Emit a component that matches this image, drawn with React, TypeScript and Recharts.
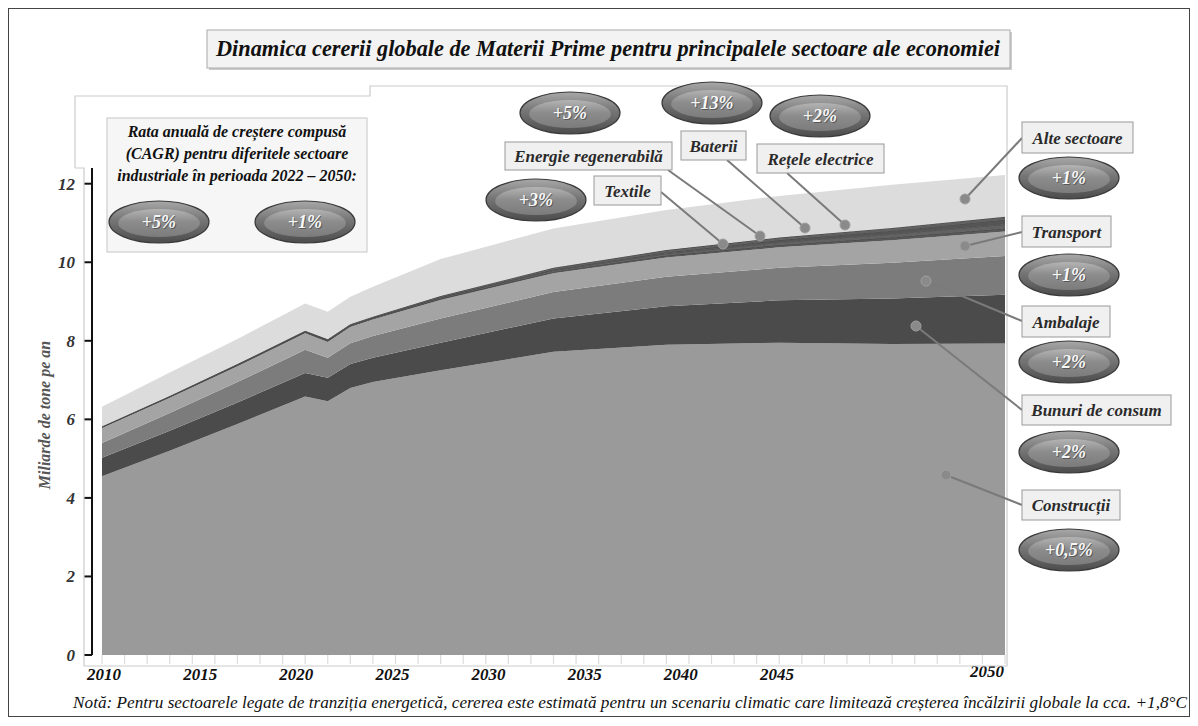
import React from "react";
import { AreaChart, Area, XAxis, YAxis } from "recharts";

const years = [2010, 2013, 2016, 2019, 2020, 2021, 2022, 2025, 2030, 2035, 2040, 2045, 2050];
const constructii = [4.55, 5.2, 5.88, 6.58, 6.46, 6.8, 6.95, 7.25, 7.72, 7.9, 7.95, 7.92, 7.93];
const bunuriDeConsum = [0.47, 0.51, 0.55, 0.6, 0.6, 0.61, 0.62, 0.7, 0.85, 0.98, 1.08, 1.16, 1.24];
const ambalaje = [0.38, 0.45, 0.52, 0.59, 0.51, 0.53, 0.55, 0.62, 0.67, 0.75, 0.83, 0.91, 0.99];
const transport = [0.38, 0.39, 0.4, 0.42, 0.4, 0.41, 0.42, 0.47, 0.48, 0.49, 0.52, 0.57, 0.62];
const textile = [0.02, 0.02, 0.025, 0.03, 0.03, 0.03, 0.03, 0.035, 0.04, 0.05, 0.06, 0.07, 0.08];
const energieRegenerabila = [0.005, 0.007, 0.01, 0.012, 0.012, 0.013, 0.015, 0.025, 0.035, 0.05, 0.065, 0.085, 0.1];
const baterii = [0.001, 0.001, 0.002, 0.003, 0.003, 0.004, 0.005, 0.01, 0.02, 0.035, 0.06, 0.09, 0.12];
const reteleElectrice = [0.015, 0.017, 0.02, 0.022, 0.022, 0.023, 0.025, 0.03, 0.045, 0.055, 0.065, 0.07, 0.08];
const alteSectoare = [0.5, 0.6, 0.64, 0.69, 0.7, 0.7, 0.76, 0.94, 1.0, 1.02, 1.06, 1.1, 1.06];

const yTicks = [0, 2, 4, 6, 8, 10, 12];
const labelYears = [2010, 2015, 2020, 2025, 2030, 2035, 2040, 2045];
const minorYears = Array.from({ length: 41 }, (_, i) => 2010 + i);

const data = years.map((year, i) => ({
  year,
  constructii: constructii[i],
  bunuri: bunuriDeConsum[i],
  ambalaje: ambalaje[i],
  transport: transport[i],
  textile: textile[i],
  energie: energieRegenerabila[i],
  baterii: baterii[i],
  retele: reteleElectrice[i],
  alte: alteSectoare[i],
}));

const series = [
  { key: "constructii", fill: "#9a9a9a", stroke: "none" },
  { key: "bunuri", fill: "#4b4b4b", stroke: "none" },
  { key: "ambalaje", fill: "#7c7c7c", stroke: "none" },
  { key: "transport", fill: "#a4a4a4", stroke: "none" },
  { key: "textile", fill: "#585858", stroke: "#3c3c3c" },
  { key: "energie", fill: "#626262", stroke: "#484848" },
  { key: "baterii", fill: "#555555", stroke: "#444" },
  { key: "retele", fill: "#606060", stroke: "#383838" },
  { key: "alte", fill: "#dcdcdc", stroke: "none" },
];

const FONT = "'Liberation Serif', 'Times New Roman', serif";

const bubbles = [
  { text: "+5%", cx: 159, cy: 222 },
  { text: "+1%", cx: 305, cy: 222 },
  { text: "+5%", cx: 570, cy: 113 },
  { text: "+13%", cx: 712, cy: 103 },
  { text: "+2%", cx: 820, cy: 116 },
  { text: "+3%", cx: 536, cy: 200 },
  { text: "+1%", cx: 1069, cy: 178 },
  { text: "+1%", cx: 1069, cy: 275 },
  { text: "+2%", cx: 1069, cy: 362 },
  { text: "+2%", cx: 1069, cy: 452 },
  { text: "+0,5%", cx: 1069, cy: 550 },
];

const callouts = [
  { text: "Energie regenerabilă", x: 505, y: 142, w: 167, h: 28, from: [668, 170], to: [760, 236] },
  { text: "Baterii", x: 681, y: 131, w: 65, h: 29, from: [727, 160], to: [805, 228] },
  { text: "Rețele electrice", x: 757, y: 144, w: 127, h: 29, from: [787, 173], to: [845, 225] },
  { text: "Textile", x: 594, y: 176, w: 67, h: 29, from: [661, 192], to: [723, 244] },
  { text: "Alte sectoare", x: 1022, y: 122, w: 111, h: 31, from: [1022, 138], to: [965, 199] },
  { text: "Transport", x: 1022, y: 216, w: 89, h: 31, from: [1022, 232], to: [965, 246] },
  { text: "Ambalaje", x: 1022, y: 306, w: 88, h: 31, from: [1022, 321], to: [926, 281] },
  { text: "Bunuri de consum", x: 1022, y: 395, w: 149, h: 30, from: [1022, 410], to: [916, 326] },
  { text: "Construcții", x: 1022, y: 490, w: 98, h: 30, from: [1022, 505], to: [946, 475] },
];

const tickFont = { fontFamily: FONT, fontSize: 17, fontWeight: "bold", fontStyle: "italic" };

const Bubble = ({ text, cx, cy }: { text: string; cx: number; cy: number }) => (
  <g>
    <ellipse cx={cx} cy={cy} rx={50} ry={21} fill="url(#bubOuter)" stroke="#3a3a3a" strokeWidth={1.2} />
    <ellipse cx={cx} cy={cy + 1} rx={41} ry={14} fill="url(#bubInner)" />
    <text x={cx + 1} y={cy + 7} textAnchor="middle" fontFamily={FONT} fontSize={18}
      fontWeight="bold" fontStyle="italic" fill="#333" opacity={0.55}>{text}</text>
    <text x={cx} y={cy + 6} textAnchor="middle" fontFamily={FONT} fontSize={18}
      fontWeight="bold" fontStyle="italic" fill="#f7f7f7">{text}</text>
  </g>
);

export default function App() {
  return (
    <div style={{ position: "relative", width: 1182, height: 709 }}>
      <div style={{ position: "absolute", left: 0, top: 0, width: 1180, height: 707, border: "1px solid #444" }} />
      <div style={{ position: "absolute", left: 0, top: 0 }}>
        <AreaChart width={1182} height={709} data={data}
          margin={{ top: 160, right: 185, bottom: 31, left: 0 }}>
          <YAxis
            width={84}
            type="number"
            domain={[0, 12.4]}
            ticks={yTicks}
            axisLine={{ stroke: "#111", strokeWidth: 2 }}
            tickLine={{ stroke: "#111", strokeWidth: 2 }}
            tickSize={8}
            tickMargin={9}
            tick={{ ...tickFont, fill: "#333" }}
          />
          <XAxis
            xAxisId="data"
            dataKey="year"
            type="number"
            domain={[2010, 2050]}
            ticks={minorYears}
            padding={{ left: 10, right: 0 }}
            height={1}
            tickSize={9}
            tickMargin={3}
            axisLine={false}
            tickLine={{ stroke: "#dcdcdc", strokeWidth: 1.2 }}
            tickFormatter={(v: number) => (v === 2050 ? "2050" : "")}
            tick={{ ...tickFont, fill: "#111", dx: -18, dy: -2 }}
            interval={0}
          />
          <XAxis
            xAxisId="lbl"
            dataKey="year"
            type="number"
            domain={[2010, 2045]}
            allowDataOverflow
            ticks={labelYears}
            padding={{ left: 12, right: 228 }}
            height={30}
            axisLine={false}
            tickLine={false}
            tickSize={2}
            tickMargin={10}
            interval={0}
            tick={{ ...tickFont, fill: "#111" }}
          />
          {series.map((s) => (
            <Area
              key={s.key}
              xAxisId="data"
              dataKey={s.key}
              stackId="1"
              type="linear"
              fill={s.fill}
              fillOpacity={1}
              stroke={s.stroke}
              strokeWidth={s.stroke === "none" ? 0 : 0.9}
              dot={false}
              activeDot={false}
              isAnimationActive={false}
            />
          ))}
        </AreaChart>
      </div>
      <svg width={1182} height={709} style={{ position: "absolute", left: 0, top: 0, pointerEvents: "none" }}>
        <defs>
          <linearGradient id="bubOuter" x1="0" y1="0" x2="0" y2="1">
            <stop offset="0%" stopColor="#a8a8a8" />
            <stop offset="45%" stopColor="#767676" />
            <stop offset="100%" stopColor="#4c4c4c" />
          </linearGradient>
          <linearGradient id="bubInner" x1="0" y1="0" x2="0" y2="1">
            <stop offset="0%" stopColor="#b4b4b4" />
            <stop offset="45%" stopColor="#8c8c8c" />
            <stop offset="100%" stopColor="#7c7c7c" />
          </linearGradient>
        </defs>
        <g transform="translate(-8,-8)">
          <polyline points="75,168 75,96 370,96 370,86 1007,86 1007,666 84,666 84,168 75,168" fill="none" stroke="#cccccc" strokeWidth={1.2} />

          <rect x={209} y={32} width={803} height={38} fill="#999" opacity={0.5} />
          <rect x={207} y={30} width={803} height={38} fill="#f3f3f3" stroke="#aaa" strokeWidth={1} />
          <text x={608} y={56} textAnchor="middle" fontFamily={FONT} fontSize={22.3}
            fontWeight="bold" fontStyle="italic" fill="#111">
            Dinamica cererii globale de Materii Prime pentru principalele sectoare ale economiei
          </text>

          <rect x={107} y={118} width={260} height={134} fill="#f6f6f6" stroke="#cfcfcf" strokeWidth={1.2} />
          {["Rata anuală de creștere compusă", "(CAGR) pentru diferitele sectoare", "industriale în perioada 2022 – 2050:"].map((t, i) => (
            <text key={i} x={237} y={137 + i * 22} textAnchor="middle" fontFamily={FONT} fontSize={16}
              fontWeight="bold" fontStyle="italic" fill="#111">{t}</text>
          ))}

          {callouts.map((c, i) => (
            <g key={i}>
              <line x1={c.from[0]} y1={c.from[1]} x2={c.to[0]} y2={c.to[1]} stroke="#7a7a7a" strokeWidth={2} />
              <circle cx={c.to[0]} cy={c.to[1]} r={5} fill="#8a8a8a" stroke="#a0a0a0" strokeWidth={1} />
              <rect x={c.x} y={c.y} width={c.w} height={c.h} fill="#f0f0f0" stroke="#999" strokeWidth={1} />
              <text x={c.x + c.w / 2} y={c.y + c.h / 2 + 6} textAnchor="middle" fontFamily={FONT} fontSize={17}
                fontWeight="bold" fontStyle="italic" fill="#2a2a2a">{c.text}</text>
            </g>
          ))}

          {bubbles.map((b, i) => <Bubble key={i} {...b} />)}

          <text transform="translate(44,415) rotate(-90)" textAnchor="middle" dominantBaseline="central"
            fontFamily={FONT} fontSize={16} fontWeight="bold" fontStyle="italic" fill="#555">
            Miliarde de tone pe an
          </text>

          <text x={630} y={708} textAnchor="middle" fontFamily={FONT} fontSize={17.2} fontStyle="italic" fill="#111">
            Notă: Pentru sectoarele legate de tranziția energetică, cererea este estimată pentru un scenariu climatic care limitează creșterea încălzirii globale la cca. +1,8°C
          </text>
        </g>
      </svg>
    </div>
  );
}
